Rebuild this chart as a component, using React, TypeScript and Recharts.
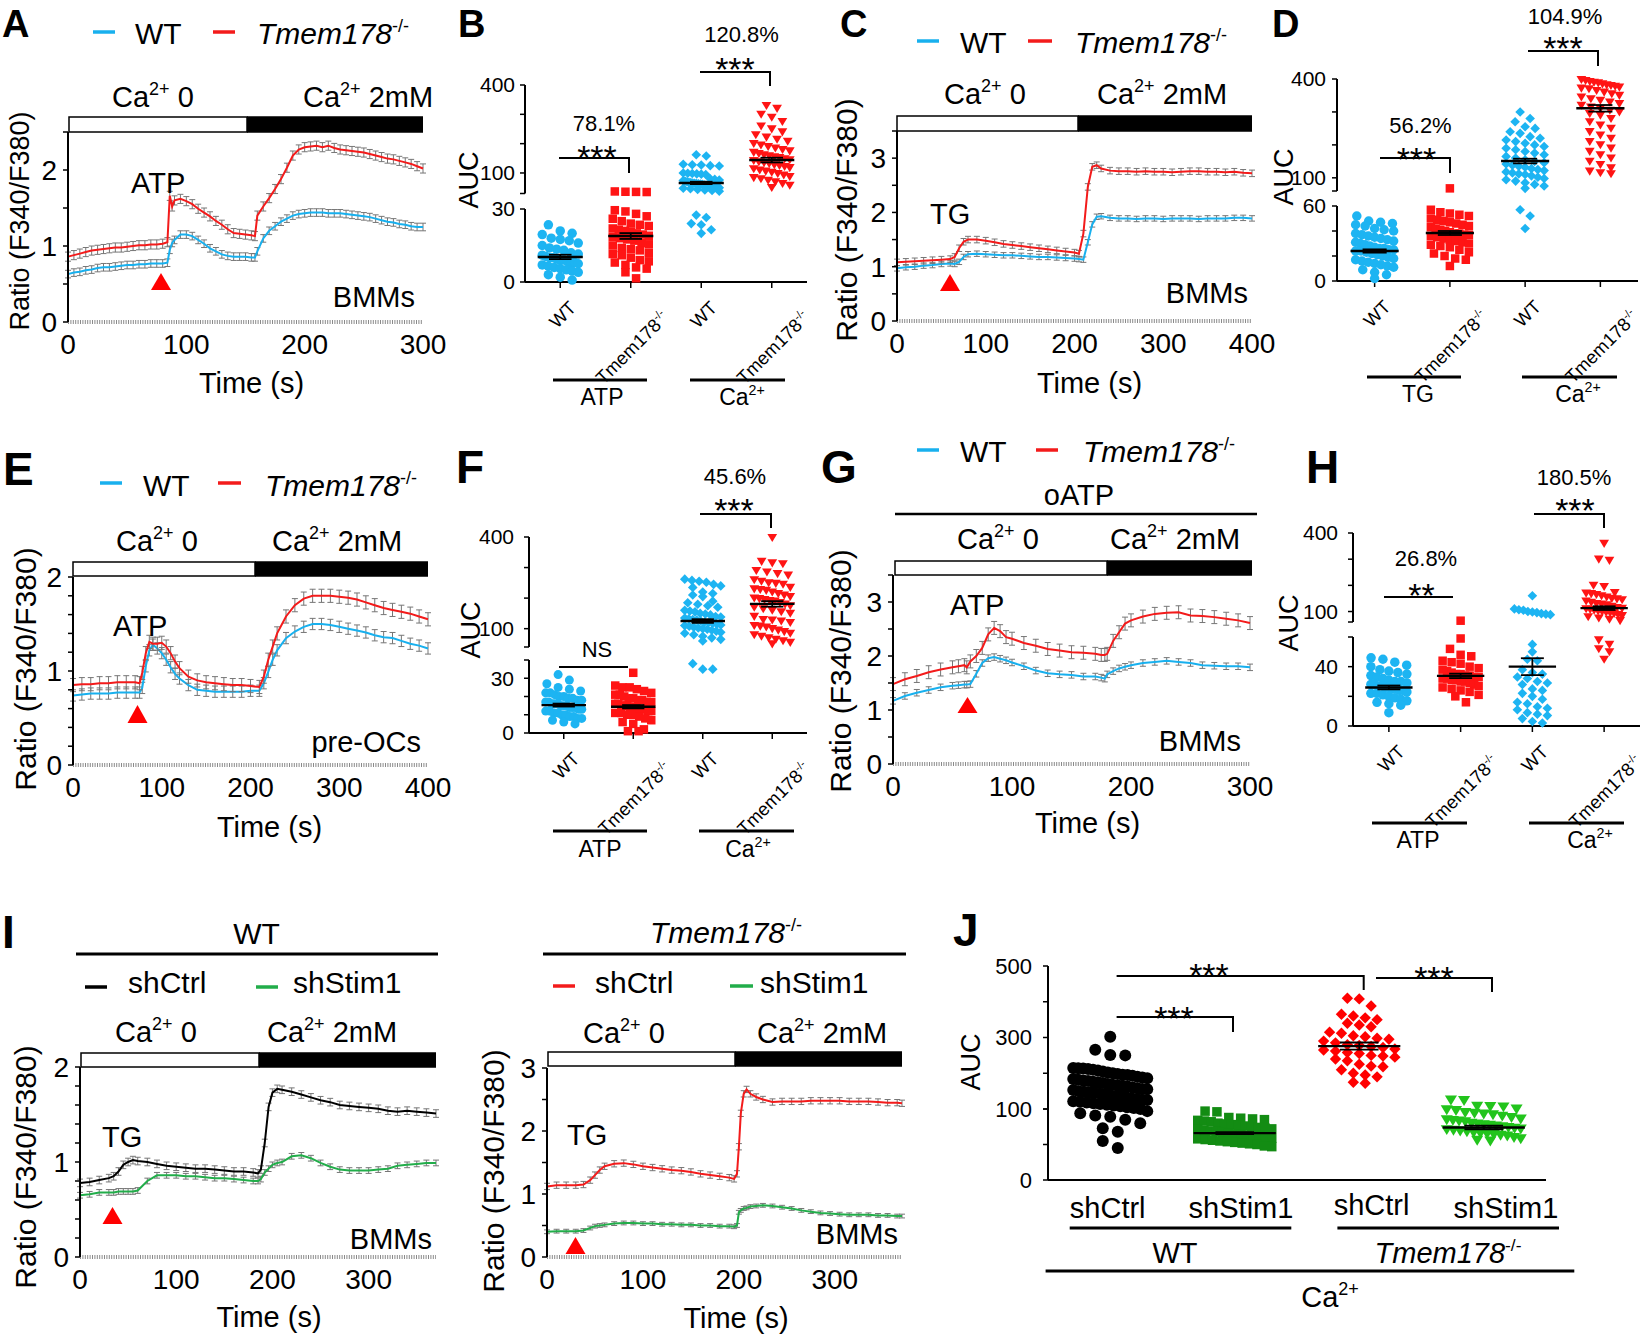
import React from 'react';
import {
  LineChart,
  Line,
  XAxis,
  YAxis,
  ErrorBar,
  ScatterChart,
  Scatter,
} from 'recharts';

const FONT = '"Liberation Sans", Arial, Helvetica, sans-serif';
const BLUE = '#18b0ee';
const RED = '#f31b1b';
const SBLUE = '#1db4f2';
const SRED = '#ff1414';
const GREEN = '#22ad4a';
const DKGREEN = '#138c13';
const LTGREEN = '#22c41c';
const ERR = '#767676';

// ---------- calcium traces (ratio F340/F380 vs time, s) ----------
const timeA = [0, 5, 10, 15, 20, 25, 30, 35, 40, 45, 50, 55, 60, 65, 70, 75, 80, 84, 86, 88, 90, 95, 100, 105, 110, 115, 120, 125, 130, 135, 140, 145, 150, 155, 158, 160, 165, 170, 175, 180, 185, 190, 195, 200, 205, 210, 215, 220, 225, 230, 235, 240, 245, 250, 255, 260, 265, 270, 275, 280, 285, 290, 295, 300];
const wtA = [0.63, 0.65, 0.66, 0.68, 0.69, 0.71, 0.72, 0.72, 0.73, 0.74, 0.75, 0.75, 0.76, 0.76, 0.77, 0.77, 0.77, 0.78, 0.95, 1.04, 1.08, 1.15, 1.15, 1.13, 1.08, 1.03, 0.97, 0.93, 0.89, 0.87, 0.86, 0.86, 0.86, 0.85, 0.85, 0.93, 1.1, 1.2, 1.26, 1.32, 1.36, 1.4, 1.42, 1.43, 1.44, 1.44, 1.44, 1.43, 1.43, 1.43, 1.42, 1.41, 1.4, 1.39, 1.38, 1.36, 1.34, 1.32, 1.31, 1.29, 1.28, 1.26, 1.25, 1.25];
const koA = [0.86, 0.88, 0.9, 0.92, 0.94, 0.95, 0.96, 0.97, 0.98, 0.98, 0.99, 1.0, 1.01, 1.01, 1.02, 1.02, 1.03, 1.05, 1.66, 1.52, 1.6, 1.62, 1.59, 1.55, 1.49, 1.44, 1.39, 1.33, 1.28, 1.22, 1.17, 1.16, 1.15, 1.14, 1.13, 1.4, 1.52, 1.63, 1.75, 1.88, 2.03, 2.19, 2.27, 2.3, 2.31, 2.32, 2.3, 2.32, 2.29, 2.27, 2.26, 2.25, 2.24, 2.23, 2.21, 2.19, 2.17, 2.15, 2.14, 2.12, 2.1, 2.08, 2.05, 2.02];

const timeC = [0, 10, 20, 30, 40, 50, 60, 65, 70, 75, 80, 90, 100, 110, 120, 130, 140, 150, 160, 170, 180, 190, 200, 205, 210, 215, 220, 225, 230, 240, 250, 260, 270, 280, 290, 300, 310, 320, 330, 340, 350, 360, 370, 380, 390, 400];
const wtC = [0.97, 0.99, 1.0, 1.02, 1.03, 1.05, 1.06, 1.05, 1.09, 1.18, 1.23, 1.24, 1.23, 1.22, 1.21, 1.21, 1.2, 1.19, 1.18, 1.18, 1.17, 1.16, 1.15, 1.14, 1.13, 1.45, 1.78, 1.92, 1.93, 1.9, 1.89, 1.89, 1.88, 1.89, 1.89, 1.88, 1.89, 1.89, 1.89, 1.88, 1.89, 1.89, 1.89, 1.9, 1.9, 1.89];
const koC = [1.08, 1.09, 1.1, 1.11, 1.12, 1.13, 1.14, 1.18, 1.34, 1.46, 1.5, 1.5, 1.48, 1.45, 1.42, 1.4, 1.38, 1.36, 1.34, 1.32, 1.3, 1.28, 1.26, 1.24, 1.61, 2.47, 2.84, 2.87, 2.81, 2.77, 2.76, 2.76, 2.75, 2.76, 2.75, 2.75, 2.74, 2.75, 2.76, 2.76, 2.75, 2.75, 2.74, 2.75, 2.73, 2.72];

const timeE = [0, 10, 20, 30, 40, 50, 60, 70, 75, 78, 82, 86, 90, 95, 100, 105, 110, 115, 120, 130, 140, 150, 160, 170, 180, 190, 200, 210, 215, 220, 225, 230, 240, 250, 260, 270, 280, 290, 300, 310, 320, 330, 340, 350, 360, 370, 380, 390, 400];
const wtE = [0.74, 0.75, 0.76, 0.76, 0.76, 0.77, 0.77, 0.77, 0.77, 0.82, 1.05, 1.22, 1.28, 1.24, 1.19, 1.12, 1.04, 0.97, 0.92, 0.85, 0.8, 0.79, 0.78, 0.78, 0.78, 0.78, 0.79, 0.79, 0.87, 0.99, 1.12, 1.22, 1.35, 1.42, 1.47, 1.5, 1.5, 1.49, 1.47, 1.45, 1.43, 1.41, 1.38, 1.36, 1.35, 1.32, 1.29, 1.27, 1.24];
const koE = [0.85, 0.86, 0.86, 0.87, 0.87, 0.88, 0.88, 0.88, 0.87, 0.98, 1.19, 1.31, 1.29, 1.29, 1.3, 1.26, 1.19, 1.1, 1.03, 0.94, 0.9, 0.88, 0.87, 0.86, 0.85, 0.85, 0.84, 0.83, 0.94, 1.12, 1.26, 1.4, 1.58, 1.7, 1.77, 1.8, 1.8, 1.8, 1.79, 1.78, 1.76, 1.73, 1.7, 1.67, 1.65, 1.63, 1.61, 1.58, 1.55];

const timeG = [0, 10, 20, 30, 40, 50, 55, 60, 62, 65, 70, 75, 80, 85, 90, 95, 100, 110, 120, 130, 140, 150, 160, 170, 175, 178, 180, 185, 190, 195, 200, 210, 220, 230, 240, 250, 260, 270, 280, 290, 300];
const wtG = [1.17, 1.26, 1.32, 1.37, 1.42, 1.45, 1.46, 1.47, 1.47, 1.48, 1.67, 1.87, 1.96, 1.98, 1.95, 1.92, 1.88, 1.81, 1.73, 1.68, 1.66, 1.65, 1.62, 1.62, 1.6, 1.58, 1.66, 1.72, 1.77, 1.8, 1.83, 1.87, 1.89, 1.91, 1.89, 1.87, 1.83, 1.82, 1.81, 1.81, 1.79];
const koG = [1.48, 1.57, 1.63, 1.7, 1.75, 1.79, 1.81, 1.83, 1.79, 1.9, 2.0, 2.15, 2.4, 2.52, 2.46, 2.35, 2.32, 2.24, 2.19, 2.13, 2.1, 2.07, 2.06, 2.04, 2.02, 2.02, 2.04, 2.28, 2.44, 2.6, 2.66, 2.73, 2.78, 2.8, 2.81, 2.75, 2.74, 2.72, 2.69, 2.66, 2.61];

const timeIL = [0, 10, 20, 30, 35, 40, 45, 50, 55, 60, 70, 80, 90, 100, 110, 120, 130, 140, 150, 160, 170, 180, 185, 188, 192, 196, 200, 205, 210, 220, 230, 240, 250, 260, 270, 280, 290, 300, 310, 320, 330, 340, 350, 360, 370];
const ctrlIL = [0.78, 0.79, 0.81, 0.83, 0.85, 0.9, 0.97, 1.0, 1.02, 1.01, 1.0, 0.98, 0.96, 0.95, 0.94, 0.93, 0.93, 0.92, 0.91, 0.9, 0.9, 0.89, 0.88, 0.92, 1.2, 1.58, 1.73, 1.77, 1.76, 1.74, 1.71, 1.68, 1.65, 1.63, 1.6, 1.59, 1.58, 1.57, 1.56, 1.54, 1.53, 1.54, 1.53, 1.52, 1.51];
const stimIL = [0.65, 0.66, 0.68, 0.68, 0.68, 0.69, 0.69, 0.69, 0.69, 0.7, 0.8, 0.86, 0.86, 0.86, 0.85, 0.85, 0.84, 0.83, 0.83, 0.82, 0.81, 0.8, 0.8, 0.82, 0.89, 0.93, 0.97, 0.99, 1.0, 1.06, 1.07, 1.04, 0.99, 0.95, 0.92, 0.91, 0.91, 0.91, 0.92, 0.93, 0.96, 0.97, 0.98, 0.99, 0.99];

const timeIR = [0, 10, 20, 30, 38, 45, 50, 55, 60, 70, 80, 90, 100, 110, 120, 130, 140, 150, 160, 170, 180, 190, 195, 198, 200, 202, 205, 208, 212, 218, 225, 235, 245, 255, 265, 275, 285, 295, 305, 315, 325, 335, 345, 355, 365, 370];
const ctrlIR = [1.12, 1.14, 1.14, 1.14, 1.15, 1.22, 1.3, 1.38, 1.44, 1.48, 1.49, 1.47, 1.44, 1.42, 1.4, 1.38, 1.37, 1.35, 1.32, 1.3, 1.28, 1.26, 1.24, 1.32, 1.75, 2.28, 2.59, 2.66, 2.59, 2.54, 2.5, 2.46, 2.47, 2.47, 2.47, 2.48, 2.48, 2.48, 2.48, 2.47, 2.47, 2.47, 2.46, 2.45, 2.45, 2.44];
const stimIR = [0.4, 0.41, 0.41, 0.41, 0.42, 0.46, 0.49, 0.5, 0.51, 0.53, 0.54, 0.54, 0.53, 0.53, 0.52, 0.52, 0.51, 0.51, 0.5, 0.5, 0.49, 0.49, 0.48, 0.5, 0.71, 0.74, 0.77, 0.78, 0.8, 0.81, 0.82, 0.81, 0.79, 0.77, 0.74, 0.72, 0.7, 0.69, 0.68, 0.67, 0.67, 0.67, 0.66, 0.66, 0.65, 0.65];

const ticksA = [0, 0.5, 1, 1.5, 2, 2.5];
const ticks35 = [0, 0.5, 1, 1.5, 2, 2.5, 3, 3.5];
const ticks3 = [0, 0.5, 1, 1.5, 2, 2.5, 3];
const ticks2 = [0, 0.2, 0.4, 0.6, 0.8, 1, 1.2, 1.4, 1.6, 1.8, 2];
const lab012 = [0, 1, 2];
const lab0123 = [0, 1, 2, 3];
const xt300 = [0, 100, 200, 300];
const xt400 = [0, 100, 200, 300, 400];

// ---------- AUC dot plots ----------
const bWtAtp = [23.5, 21, 20, 19.5, 18, 17.5, 17, 16, 15, 14, 13.5, 13, 12, 11.5, 11, 10.5, 10, 10, 9.5, 9, 9, 8.5, 8, 8, 7.5, 7, 6.5, 6, 5.5, 5, 4.5, 4, 3, 2, 0.8];
const bKoAtp = [37, 36, 35.5, 35, 29.5, 29, 28, 27, 26, 25, 24, 23.5, 23, 22, 21.5, 21, 20.5, 20, 19.5, 19, 18.5, 18, 17.5, 17, 16, 15.5, 15, 14, 13.5, 13, 12, 11.5, 11, 10, 9, 8.5, 8, 7, 6, 5.5, 4, 1.5];
const bWtCa = [162, 158, 130, 128, 127, 125, 124, 100, 99, 98, 97, 96, 95, 80, 78, 76, 74, 72, 70, 68, 67, 66, 65, 64, 63, 62, 61, 60, 59, 58, 57, 56, 55, 54, 52, 50, 48, 46, 44, 42, 40, 38, 27.5, 26.5, 24, 23.5, 21.5, 20];
const bKoCa = [330, 320, 300, 290, 275, 260, 250, 240, 230, 222, 215, 208, 200, 195, 190, 185, 180, 175, 170, 166, 162, 158, 155, 152, 148, 145, 142, 138, 135, 132, 128, 125, 122, 118, 114, 110, 106, 102, 98, 93, 88, 84, 80, 75, 70, 64, 58, 50];
const meanB = [10.3, 18.9, 66, 144];
const semB = [0.9, 1.2, 4, 8];

const dWtTg = [52, 48, 47, 46, 45, 44, 42, 41, 40, 38, 37, 36, 35, 34, 33, 32, 31, 30, 29, 28, 27, 26, 26, 25, 25, 24, 24, 23, 22, 21, 20, 19, 18, 17, 16, 15, 14, 13, 12, 11, 9, 7, 5, 2];
const dKoTg = [68, 57, 55, 54, 53, 52, 50, 49, 48, 47, 46, 45, 44, 43, 42, 41, 40, 39, 38, 38, 37, 37, 36, 35, 34, 33, 32, 31, 30, 29, 28, 27, 25, 23, 22, 20, 18, 17, 12];
const dWtCa = [300, 280, 270, 255, 250, 240, 235, 225, 220, 215, 210, 205, 200, 195, 190, 185, 180, 175, 170, 165, 160, 155, 150, 146, 142, 138, 135, 132, 128, 125, 122, 118, 115, 112, 110, 106, 102, 98, 94, 90, 85, 80, 75, 68, 57, 52, 42];
const dKoCa = [398, 395, 392, 390, 388, 385, 382, 380, 378, 375, 372, 370, 365, 360, 355, 350, 345, 340, 335, 330, 325, 320, 315, 310, 305, 300, 295, 290, 280, 270, 260, 250, 240, 230, 220, 210, 200, 190, 180, 170, 160, 150, 140, 130, 120, 115, 112];
const meanD = [24, 38.4, 151, 311];
const semD = [1.3, 1.6, 7, 10];

const fWtAtp = [32, 29, 27, 25, 24, 23, 22, 22, 21, 20, 20, 19, 19, 18, 18, 17, 17, 16, 16, 16, 15, 15, 15, 14, 14, 14, 13, 13, 12, 12, 11, 11, 10, 10, 9, 9, 8, 8, 7, 6, 5];
const fKoAtp = [33, 26, 25, 25, 24, 23, 22, 21, 21, 20, 19, 19, 18, 18, 17, 17, 16, 16, 15, 15, 15, 14, 14, 14, 13, 13, 13, 12, 12, 11, 11, 10, 10, 9, 8, 7, 6, 5, 2, 1, 1];
const fWtCa = [262, 258, 255, 252, 245, 240, 235, 220, 215, 210, 205, 190, 185, 180, 175, 170, 160, 158, 155, 150, 148, 145, 140, 138, 135, 132, 130, 128, 125, 122, 120, 118, 115, 112, 110, 108, 105, 102, 100, 98, 95, 92, 88, 85, 80, 75, 70, 65, 60, 38, 35, 35];
const fKoCa = [398, 320, 315, 312, 290, 285, 280, 275, 260, 255, 250, 248, 245, 235, 230, 228, 225, 220, 215, 210, 205, 200, 198, 195, 192, 190, 185, 180, 175, 170, 165, 160, 155, 150, 140, 130, 128, 125, 120, 110, 108, 105, 100, 95, 90, 85, 80, 75, 70, 65, 60, 55, 50];
const meanF = [15.3, 14.4, 125, 181];
const semF = [0.8, 0.9, 6, 9];

const hWtAtp = [46, 45, 43, 41, 40, 38, 37, 36, 35, 34, 33, 32, 31, 30, 30, 29, 28, 28, 27, 27, 26, 26, 25, 25, 24, 24, 23, 22, 22, 21, 20, 19, 18, 17, 16, 15, 14, 9];
const hKoAtp = [65, 59, 52, 48, 47, 44, 43, 42, 40, 39, 38, 37, 36, 35, 35, 34, 34, 33, 33, 32, 32, 31, 31, 30, 30, 29, 28, 27, 26, 25, 24, 23, 21, 20, 16];
const hWtCa = [160, 110, 107, 105, 100, 98, 96, 92, 90, 88, 55, 50, 45, 44, 38, 36, 35, 33, 32, 30, 29, 28, 25, 24, 22, 20, 18, 16, 15, 13, 12, 11, 9, 8, 7, 5, 3, 2];
const hKoCa = [360, 300, 295, 200, 195, 172, 170, 168, 165, 160, 155, 150, 148, 145, 140, 135, 130, 128, 125, 120, 115, 112, 110, 108, 105, 102, 100, 97, 95, 92, 88, 84, 80, 75, 70, 65, 58, 55, 52, 50, 45];
const meanH = [26, 33.8, 40, 113];
const semH = [1.3, 1.5, 5.7, 7];

const jWtCtrl = [302, 266, 251, 250, 215, 214, 213, 212, 210, 208, 205, 202, 200, 198, 196, 195, 193, 190, 188, 186, 184, 182, 180, 178, 176, 175, 173, 170, 168, 166, 165, 163, 160, 158, 156, 155, 153, 150, 148, 146, 145, 143, 140, 138, 136, 135, 133, 130, 128, 126, 125, 122, 120, 118, 116, 114, 112, 110, 108, 105, 103, 100, 97, 94, 91, 89, 85, 80, 73, 68, 55, 45];
const jWtStim = [97, 96, 88, 87, 86, 85, 84, 83, 82, 80, 79, 78, 77, 76, 75, 74, 73, 72, 71, 70, 69, 68, 67, 66, 65, 64, 63, 62, 61, 60, 59, 58, 57, 56, 55, 54, 53, 52, 51, 50, 48, 47];
const jKoCtrl = [410, 408, 388, 365, 360, 355, 350, 340, 335, 330, 315, 312, 305, 302, 298, 295, 290, 285, 280, 278, 275, 272, 268, 265, 262, 258, 255, 250, 248, 245, 240, 235, 225, 220, 218, 210, 200, 195, 190, 175, 172];
const jKoStim = [125, 124, 108, 107, 106, 100, 99, 98, 95, 94, 93, 92, 90, 88, 86, 85, 84, 83, 82, 80, 79, 78, 77, 76, 75, 74, 73, 72, 71, 70, 69, 68, 67, 66, 65, 64, 63, 62, 60, 58, 56, 55];
const meanJ = [155, 66, 276, 74];
const semJ = [6, 1.5, 10, 2.5];

// ---------- trace panel ----------
function Trace({ L, T, W, H, xMax, xTicks, yMax, yTicks, yLabels, time, series }: any) {
  const AX = 50, MT = 18, MR = 34, XH = 50;
  const rows = time.map((t: number, i: number) => {
    const r: any = { t };
    series.forEach((s: any, k: number) => {
      r['v' + k] = s.v[i];
      r['e' + k] = s.e;
    });
    return r;
  });
  return (
    <div style={{ position: 'absolute', left: L - AX, top: T - MT }}>
      <LineChart width={W + AX + MR} height={H + MT + XH} data={rows} margin={{ top: MT, right: MR, left: 0, bottom: 0 }}>
        <XAxis dataKey="t" type="number" domain={[0, xMax]} ticks={xTicks} interval={0} height={XH}
          tickSize={0} tickMargin={12} tickLine={false}
          axisLine={{ stroke: '#8a8a8a', strokeWidth: 4, strokeDasharray: '1 1.4' }}
          tick={{ fontSize: 28, fill: '#000' }} />
        <YAxis type="number" domain={[0, yMax]} ticks={yTicks} interval={0} width={AX}
          tickSize={5} tickMargin={6}
          tickFormatter={(v: number) => (yLabels.includes(v) ? String(v) : '')}
          axisLine={{ stroke: '#000', strokeWidth: 2 }} tickLine={{ stroke: '#000', strokeWidth: 1.5 }}
          tick={{ fontSize: 28, fill: '#000' }} />
        {series.map((s: any, k: number) => (
          <Line key={k} type="linear" dataKey={'v' + k} stroke={s.c} strokeWidth={2} dot={false} isAnimationActive={false}>
            <ErrorBar dataKey={'e' + k} width={3} stroke={ERR} strokeWidth={1} />
          </Line>
        ))}
      </LineChart>
    </div>
  );
}

// ---------- dot plot helpers ----------
function segOf(segs: any[], v: number) {
  for (let i = 0; i < segs.length; i++) if (v >= segs[i].lo) return i;
  return segs.length - 1;
}
function valPx(segs: any[], v: number) {
  const s = segs[segOf(segs, v)];
  return s.bottom - ((v - s.lo) / (s.hi - s.lo)) * (s.bottom - s.top);
}
// simple beeswarm: points at similar height are spread side by side
function swarm(values: number[], segs: any[], cat: number, catPx: number, size: number, maxW: number) {
  const pts = values.map((v) => ({ v, py: valPx(segs, v) })).sort((a, b) => a.py - b.py);
  const rows: any[][] = [];
  pts.forEach((p) => {
    const r = rows[rows.length - 1];
    if (r && p.py - r[0].py < size * 0.9) r.push(p);
    else rows.push([p]);
  });
  const out: any[] = [];
  rows.forEach((r) => {
    const n = r.length;
    const step = n > 1 ? Math.min(size * 1.25, maxW / (n - 1)) : 0;
    r.forEach((p, i) => out.push({ x: cat + ((i - (n - 1) / 2) * step) / catPx, y: p.v }));
  });
  return out;
}

function Marker({ cx, cy, kind, size, color }: any) {
  const r = size / 2;
  if (kind === 'circle') return <circle cx={cx} cy={cy} r={r} fill={color} />;
  if (kind === 'square') return <rect x={cx - r} y={cy - r} width={size} height={size} fill={color} />;
  if (kind === 'diamond') {
    const d = r * 1.2;
    return <polygon points={`${cx},${cy - d} ${cx + d},${cy} ${cx},${cy + d} ${cx - d},${cy}`} fill={color} />;
  }
  const w = r * 1.15;
  return <polygon points={`${cx - w},${cy - r * 0.85} ${cx + w},${cy - r * 0.85} ${cx},${cy + r * 1.05}`} fill={color} />;
}

// mean line with SEM whiskers, drawn at the mean's own position
function MeanBar({ cx, cy, hw, cw, e }: any) {
  return (
    <g stroke="#000" fill="none">
      <line x1={cx - hw} x2={cx + hw} y1={cy} y2={cy} strokeWidth={2.4} />
      <line x1={cx} x2={cx} y1={cy - e} y2={cy + e} strokeWidth={1.8} />
      <line x1={cx - cw} x2={cx + cw} y1={cy - e} y2={cy - e} strokeWidth={1.8} />
      <line x1={cx - cw} x2={cx + cw} y1={cy + e} y2={cy + e} strokeWidth={1.8} />
    </g>
  );
}

function CatTick({ x, y, payload }: any) {
  const ko = payload.value % 2 === 1;
  const fs = 18.5;
  return (
    <g transform={`translate(${x + (ko ? 39 : 17)},${y + (ko ? 29 : 19)}) rotate(-45)`}>
      <text textAnchor="end" fontSize={fs} fill="#000">
        {ko ? [
          <tspan key="a">Tmem178</tspan>,
          <tspan key="b" dy={-fs * 0.4} fontSize={fs * 0.6}>-/-</tspan>,
        ] : 'WT'}
      </text>
    </g>
  );
}

function Dots({ L, W, segs, groups, means, sems, maxW, half, cap, fs = 21, tm = 6, catLabels = true }: any) {
  const catPx = W / 4;
  const pts = groups.map((g: any, i: number) => swarm(g.v, segs, i, catPx, g.s, maxW));
  const AX = 60, MR = 8, PAD = 12;
  return (
    <>
      {segs.map((s: any, si: number) => {
        const last = si === segs.length - 1;
        const XH = last ? 110 : 0;
        const h = s.bottom - s.top;
        const ppu = h / (s.hi - s.lo);
        const meanPts = means
          .map((m: number, i: number) => ({ x: i, y: m, i }))
          .filter((d: any) => segOf(segs, d.y) === si);
        return (
          <div key={si} style={{ position: 'absolute', left: L - AX, top: s.top - PAD }}>
            <ScatterChart width={W + AX + MR} height={h + PAD + (last ? XH : PAD)}
              margin={{ top: PAD, right: MR, left: 0, bottom: last ? 0 : PAD }}>
              <XAxis type="number" dataKey="x" domain={[-0.5, 3.5]} ticks={[0, 1, 2, 3]} interval={0}
                hide={!last} height={XH} tickSize={6} tickMargin={2}
                axisLine={{ stroke: '#000', strokeWidth: 2 }} tickLine={{ stroke: '#000', strokeWidth: 1.5 }}
                tick={catLabels ? (p: any) => <CatTick {...p} /> : false} />
              <YAxis type="number" dataKey="y" domain={[s.lo, s.hi]} ticks={s.ticks} interval={0} width={AX}
                tickSize={5} tickMargin={tm}
                tickFormatter={(v: number) => (s.labels.includes(v) ? String(v) : '')}
                axisLine={{ stroke: '#000', strokeWidth: 2 }} tickLine={{ stroke: '#000', strokeWidth: 1.5 }}
                tick={{ fontSize: fs, fill: '#000' }} />
              {groups.map((g: any, gi: number) => (
                <Scatter key={gi} data={pts[gi].filter((p: any) => segOf(segs, p.y) === si)} isAnimationActive={false}
                  shape={(p: any) => <Marker cx={p.cx} cy={p.cy} kind={g.k} size={g.s} color={g.c} />} />
              ))}
              <Scatter data={meanPts} isAnimationActive={false}
                shape={(p: any) => (
                  <MeanBar cx={p.cx} cy={p.cy} hw={half * catPx} cw={cap * catPx} e={sems[p.payload.i] * ppu} />
                )} />
            </ScatterChart>
          </div>
        );
      })}
    </>
  );
}

// ---------- annotation helpers ----------
const Tx = ({ x, y, s = 29, a = 'start', b, it, children }: any) => (
  <text x={x} y={y} fontSize={s} textAnchor={a} fontWeight={b ? 700 : 400} fontStyle={it ? 'italic' : 'normal'} fill="#000">
    {children}
  </text>
);
const Ca = ({ x, y, tail = '', s = 29, a = 'start' }: any) => (
  <text x={x} y={y} fontSize={s} textAnchor={a} fill="#000">
    Ca<tspan dy={-s * 0.42} fontSize={s * 0.62}>2+</tspan>
    {tail ? <tspan dy={s * 0.42}>{'\u00a0' + tail}</tspan> : null}
  </text>
);
const Ko = ({ x, y, s = 30, a = 'start' }: any) => (
  <text x={x} y={y} fontSize={s} textAnchor={a} fill="#000">
    <tspan fontStyle="italic">Tmem178</tspan>
    <tspan dy={-s * 0.4} fontSize={s * 0.6}>-/-</tspan>
  </text>
);
const YLab = ({ x, y, s = 30, children }: any) => (
  <text transform={`translate(${x},${y}) rotate(-90)`} fontSize={s} textAnchor="middle" fill="#000">{children}</text>
);
const Dash = ({ x1, x2, y, c }: any) => <line x1={x1} x2={x2} y1={y} y2={y} stroke={c} strokeWidth={3.5} />;
const CaBar = ({ x1, xm, x2, y1, y2 }: any) => (
  <g>
    <rect x={x1} y={y1} width={xm - x1} height={y2 - y1} fill="#fff" stroke="#000" strokeWidth={1.5} />
    <rect x={xm} y={y1 - 0.75} width={x2 - xm} height={y2 - y1 + 1.5} fill="#000" />
  </g>
);
const Tri = ({ cx, y1, y2 }: any) => <polygon points={`${cx - 10},${y2} ${cx + 10},${y2} ${cx},${y1}`} fill="#ff0000" />;
const Stars = ({ x, cy, n = 3, s = 34 }: any) => (
  <Tx x={x} y={cy + 0.58 * s} s={s} a="middle">{'*'.repeat(n)}</Tx>
);
const Br = ({ d, w = 2 }: any) => <path d={d} stroke="#000" strokeWidth={w} fill="none" />;
const HL = ({ x1, x2, y, w = 3 }: any) => <line x1={x1} x2={x2} y1={y} y2={y} stroke="#000" strokeWidth={w} />;

export default function App() {
  return (
    <div style={{ position: 'absolute', left: 0, top: 0, width: 1648, height: 1341, background: '#fff', fontFamily: FONT, overflow: 'hidden' }}>
      {/* traces */}
      <Trace L={68} T={132} W={355} H={190} xMax={300} xTicks={xt300} yMax={2.5} yTicks={ticksA} yLabels={lab012}
        time={timeA} series={[{ v: wtA, c: BLUE, e: 0.05 }, { v: koA, c: RED, e: 0.06 }]} />
      <Trace L={897} T={131} W={355} H={190} xMax={400} xTicks={xt400} yMax={3.5} yTicks={ticks35} yLabels={lab0123}
        time={timeC} series={[{ v: wtC, c: BLUE, e: 0.05 }, { v: koC, c: RED, e: 0.06 }]} />
      <Trace L={73} T={577} W={355} H={188} xMax={400} xTicks={xt400} yMax={2} yTicks={ticks2} yLabels={lab012}
        time={timeE} series={[{ v: wtE, c: BLUE, e: 0.06 }, { v: koE, c: RED, e: 0.07 }]} />
      <Trace L={893} T={575} W={357} H={189} xMax={300} xTicks={xt300} yMax={3.5} yTicks={ticks35} yLabels={lab0123}
        time={timeG} series={[{ v: wtG, c: BLUE, e: 0.06 }, { v: koG, c: RED, e: 0.12 }]} />
      <Trace L={80} T={1067} W={356} H={190} xMax={370} xTicks={xt300} yMax={2} yTicks={ticks2} yLabels={lab012}
        time={timeIL} series={[{ v: stimIL, c: GREEN, e: 0.03 }, { v: ctrlIL, c: '#000', e: 0.04 }]} />
      <Trace L={547} T={1068} W={355} H={189} xMax={370} xTicks={xt300} yMax={3} yTicks={ticks3} yLabels={lab0123}
        time={timeIR} series={[{ v: stimIR, c: GREEN, e: 0.03 }, { v: ctrlIR, c: RED, e: 0.05 }]} />

      {/* dot plots */}
      <Dots L={525} W={282} maxW={36} half={0.32} cap={0.16} tm={5}
        segs={[
          { lo: 30, hi: 400, top: 85, bottom: 193.5, ticks: [30, 100, 200, 300, 400], labels: [100, 400] },
          { lo: 0, hi: 30, top: 209, bottom: 282, ticks: [0, 30], labels: [0, 30] },
        ]}
        groups={[
          { v: bWtAtp, c: SBLUE, k: 'circle', s: 9.5 },
          { v: bKoAtp, c: SRED, k: 'square', s: 8.5 },
          { v: bWtCa, c: SBLUE, k: 'diamond', s: 8 },
          { v: bKoCa, c: SRED, k: 'tri', s: 8.5 },
        ]}
        means={meanB} sems={semB} />
      <Dots L={1337} W={301} maxW={38} half={0.32} cap={0.16} tm={6}
        segs={[
          { lo: 60, hi: 400, top: 79, bottom: 191, ticks: [60, 100, 200, 300, 400], labels: [100, 400] },
          { lo: 0, hi: 60, top: 206, bottom: 281, ticks: [0, 20, 40, 60], labels: [0, 60] },
        ]}
        groups={[
          { v: dWtTg, c: SBLUE, k: 'circle', s: 9.5 },
          { v: dKoTg, c: SRED, k: 'square', s: 8.5 },
          { v: dWtCa, c: SBLUE, k: 'diamond', s: 8 },
          { v: dKoCa, c: SRED, k: 'tri', s: 8.5 },
        ]}
        means={meanD} sems={semD} />
      <Dots L={529} W={278} maxW={36} half={0.32} cap={0.16} tm={10}
        segs={[
          { lo: 40, hi: 400, top: 537, bottom: 647, ticks: [40, 100, 200, 300, 400], labels: [100, 400] },
          { lo: 0, hi: 40, top: 660, bottom: 733, ticks: [0, 10, 20, 30, 40], labels: [0, 30] },
        ]}
        groups={[
          { v: fWtAtp, c: SBLUE, k: 'circle', s: 9 },
          { v: fKoAtp, c: SRED, k: 'square', s: 8.5 },
          { v: fWtCa, c: SBLUE, k: 'diamond', s: 8 },
          { v: fKoCa, c: SRED, k: 'tri', s: 8.5 },
        ]}
        means={meanF} sems={semF} />
      <Dots L={1353} W={287} maxW={36} half={0.33} cap={0.16} tm={10}
        segs={[
          { lo: 60, hi: 400, top: 533, bottom: 622, ticks: [60, 100, 200, 300, 400], labels: [100, 400] },
          { lo: 0, hi: 60, top: 637, bottom: 726, ticks: [0, 20, 40, 60], labels: [0, 40] },
        ]}
        groups={[
          { v: hWtAtp, c: SBLUE, k: 'circle', s: 9.5 },
          { v: hKoAtp, c: SRED, k: 'square', s: 8.5 },
          { v: hWtCa, c: SBLUE, k: 'diamond', s: 8 },
          { v: hKoCa, c: SRED, k: 'tri', s: 8.5 },
        ]}
        means={meanH} sems={semH} />
      <Dots L={1048} W={498} maxW={74} half={0.33} cap={0.155} fs={22} tm={11} catLabels={false}
        segs={[
          { lo: 100, hi: 500, top: 966, bottom: 1109, ticks: [100, 200, 300, 400, 500], labels: [100, 300, 500] },
          { lo: 0, hi: 100, top: 1109, bottom: 1180, ticks: [0, 50, 100], labels: [0] },
        ]}
        groups={[
          { v: jWtCtrl, c: '#000', k: 'circle', s: 12 },
          { v: jWtStim, c: DKGREEN, k: 'square', s: 9.5 },
          { v: jKoCtrl, c: '#ff0000', k: 'diamond', s: 9.5 },
          { v: jKoStim, c: LTGREEN, k: 'tri', s: 10.5 },
        ]}
        means={meanJ} sems={semJ} />

      {/* annotations */}
      <svg width={1648} height={1341} style={{ position: 'absolute', left: 0, top: 0, pointerEvents: 'none' }}>
        {/* panel letters */}
        <Tx x={2} y={37} s={38} b>A</Tx>
        <Tx x={458} y={37} s={38} b>B</Tx>
        <Tx x={840} y={37} s={38} b>C</Tx>
        <Tx x={1272} y={37} s={38} b>D</Tx>
        <Tx x={3} y={485} s={46} b>E</Tx>
        <Tx x={456} y={483} s={46} b>F</Tx>
        <Tx x={821} y={483} s={46} b>G</Tx>
        <Tx x={1306} y={483} s={46} b>H</Tx>
        <Tx x={2} y={948} s={46} b>I</Tx>
        <Tx x={953} y={946} s={46} b>J</Tx>

        {/* A */}
        <Dash x1={93} x2={115} y={32} c={BLUE} />
        <Tx x={135} y={44} s={30}>WT</Tx>
        <Dash x1={213} x2={235} y={32} c={RED} />
        <Ko x={257} y={44} />
        <CaBar x1={69} xm={247} x2={423} y1={117} y2={132} />
        <Ca x={112} y={107} tail="0" />
        <Ca x={303} y={107} tail="2mM" />
        <Tx x={131} y={193}>ATP</Tx>
        <Tri cx={161} y1={273} y2={290} />
        <Tx x={415} y={307} a="end">BMMs</Tx>
        <Tx x={251.5} y={393} a="middle">Time (s)</Tx>
        <YLab x={29} y={221} s={27}>Ratio (F340/F380)</YLab>

        {/* C */}
        <Dash x1={917} x2={939} y={41} c={BLUE} />
        <Tx x={960} y={53} s={30}>WT</Tx>
        <Dash x1={1028} x2={1052} y={41} c={RED} />
        <Ko x={1075} y={53} />
        <CaBar x1={897} xm={1078} x2={1252} y1={116} y2={131} />
        <Ca x={944} y={104} tail="0" />
        <Ca x={1097} y={104} tail="2mM" />
        <Tx x={930} y={224}>TG</Tx>
        <Tri cx={950} y1={274} y2={291} />
        <Tx x={1248} y={303} a="end">BMMs</Tx>
        <Tx x={1089.5} y={393} a="middle">Time (s)</Tx>
        <YLab x={857} y={220}>Ratio (F340/F380)</YLab>

        {/* E */}
        <Dash x1={100} x2={122} y={483} c={BLUE} />
        <Tx x={143} y={496} s={30}>WT</Tx>
        <Dash x1={218} x2={241} y={483} c={RED} />
        <Ko x={265} y={496} />
        <CaBar x1={73} xm={255} x2={428} y1={562} y2={576} />
        <Ca x={116} y={551} tail="0" />
        <Ca x={272} y={551} tail="2mM" />
        <Tx x={113} y={636}>ATP</Tx>
        <Tri cx={137.5} y1={705} y2={723} />
        <Tx x={421} y={752} a="end">pre-OCs</Tx>
        <Tx x={269.5} y={837} a="middle">Time (s)</Tx>
        <YLab x={36} y={669}>Ratio (F340/F380)</YLab>

        {/* G */}
        <Dash x1={917} x2={939} y={450} c={BLUE} />
        <Tx x={960} y={462} s={30}>WT</Tx>
        <Dash x1={1036} x2={1058} y={450} c={RED} />
        <Ko x={1083} y={462} />
        <Tx x={1079} y={505} a="middle">oATP</Tx>
        <HL x1={895} x2={1257} y={514} w={2.5} />
        <Ca x={957} y={549} tail="0" />
        <Ca x={1110} y={549} tail="2mM" />
        <CaBar x1={895} xm={1107} x2={1252} y1={561} y2={575} />
        <Tx x={950} y={615}>ATP</Tx>
        <Tri cx={967.5} y1={697} y2={713} />
        <Tx x={1241} y={751} a="end">BMMs</Tx>
        <Tx x={1087.5} y={833} a="middle">Time (s)</Tx>
        <YLab x={851} y={671}>Ratio (F340/F380)</YLab>

        {/* I left */}
        <Tx x={256.5} y={944} s={30} a="middle">WT</Tx>
        <HL x1={76} x2={438} y={954} />
        <Dash x1={85} x2={107} y={987} c="#000" />
        <Tx x={128} y={993} s={30}>shCtrl</Tx>
        <Dash x1={256} x2={278} y={987} c={GREEN} />
        <Tx x={293} y={993} s={30}>shStim1</Tx>
        <Ca x={115} y={1042} tail="0" />
        <Ca x={267} y={1042} tail="2mM" />
        <CaBar x1={81} xm={259} x2={436} y1={1053} y2={1067} />
        <Tx x={102} y={1147}>TG</Tx>
        <Tri cx={112.5} y1={1207} y2={1224} />
        <Tx x={432} y={1249} a="end">BMMs</Tx>
        <Tx x={269} y={1327} a="middle">Time (s)</Tx>
        <YLab x={36} y={1167}>Ratio (F340/F380)</YLab>

        {/* I right */}
        <Ko x={726} y={943} a="middle" />
        <HL x1={543} x2={906} y={954} />
        <Dash x1={553} x2={575} y={986} c={RED} />
        <Tx x={595} y={993} s={30}>shCtrl</Tx>
        <Dash x1={730} x2={753} y={986} c={GREEN} />
        <Tx x={760} y={993} s={30}>shStim1</Tx>
        <Ca x={583} y={1043} tail="0" />
        <Ca x={757} y={1043} tail="2mM" />
        <CaBar x1={548} xm={735} x2={902} y1={1052} y2={1066} />
        <Tx x={567} y={1145}>TG</Tx>
        <Tri cx={575.5} y1={1237} y2={1254} />
        <Tx x={898} y={1244} a="end">BMMs</Tx>
        <Tx x={736} y={1328} a="middle">Time (s)</Tx>
        <YLab x={504} y={1171}>Ratio (F340/F380)</YLab>

        {/* B */}
        <YLab x={478} y={180} s={27}>AUC</YLab>
        <Br d="M559,158H629V173" />
        <Stars x={597} cy={149} />
        <Tx x={604} y={131} s={22} a="middle">78.1%</Tx>
        <Br d="M700,72H770V86" />
        <Stars x={735} cy={61} />
        <Tx x={741.5} y={42} s={22} a="middle">120.8%</Tx>
        <HL x1={553} x2={647} y={380} />
        <Tx x={602} y={405} s={23} a="middle">ATP</Tx>
        <HL x1={690} x2={785} y={380} />
        <Ca x={742} y={405} s={23} a="middle" />

        {/* D */}
        <YLab x={1293} y={177} s={27}>AUC</YLab>
        <Br d="M1380,158H1450V173" />
        <Stars x={1416.5} cy={151} />
        <Tx x={1420.5} y={133} s={22} a="middle">56.2%</Tx>
        <Br d="M1528,51H1598V66" />
        <Stars x={1563} cy={40} />
        <Tx x={1565} y={24} s={22} a="middle">104.9%</Tx>
        <HL x1={1367} x2={1461} y={377} />
        <Tx x={1418} y={402} s={23} a="middle">TG</Tx>
        <HL x1={1522} x2={1617} y={377} />
        <Ca x={1578} y={402} s={23} a="middle" />

        {/* F */}
        <YLab x={480} y={630} s={27}>AUC</YLab>
        <HL x1={559} x2={628} y={667} w={2} />
        <Tx x={597} y={657} s={22} a="middle">NS</Tx>
        <Br d="M700,514H771V528" />
        <Stars x={734} cy={502.5} />
        <Tx x={735} y={484} s={22} a="middle">45.6%</Tx>
        <HL x1={553} x2={647} y={831} />
        <Tx x={600} y={857} s={23} a="middle">ATP</Tx>
        <HL x1={699} x2={794} y={831} />
        <Ca x={748} y={857} s={23} a="middle" />

        {/* H */}
        <YLab x={1298} y={623} s={27}>AUC</YLab>
        <HL x1={1384} x2={1453} y={597} w={2} />
        <Stars x={1421.5} cy={587.5} n={2} />
        <Tx x={1426} y={566} s={22} a="middle">26.8%</Tx>
        <Br d="M1534,514H1604V528" />
        <Stars x={1575} cy={502.5} />
        <Tx x={1574} y={485} s={22} a="middle">180.5%</Tx>
        <HL x1={1372} x2={1467} y={823} />
        <Tx x={1418} y={848} s={23} a="middle">ATP</Tx>
        <HL x1={1529} x2={1624} y={823} />
        <Ca x={1590} y={848} s={23} a="middle" />

        {/* J */}
        <YLab x={980} y={1062} s={27}>AUC</YLab>
        <Br d="M1116.6,976H1363.7V990" />
        <Stars x={1209} cy={967.5} />
        <Br d="M1376,978H1492V992" />
        <Stars x={1434} cy={970} />
        <Br d="M1116.6,1017H1233V1032" />
        <Stars x={1174} cy={1010} />
        <Tx x={1107.7} y={1218} a="middle">shCtrl</Tx>
        <Tx x={1241} y={1218} a="middle">shStim1</Tx>
        <Tx x={1371.5} y={1215} a="middle">shCtrl</Tx>
        <Tx x={1506} y={1218} a="middle">shStim1</Tx>
        <HL x1={1069.7} x2={1291.3} y={1228} />
        <HL x1={1337.4} x2={1559} y={1228} />
        <Tx x={1175} y={1263} a="middle">WT</Tx>
        <Ko x={1448} y={1263} s={29} a="middle" />
        <HL x1={1045.6} x2={1574.3} y={1271} />
        <Ca x={1330} y={1307} a="middle" />
      </svg>
    </div>
  );
}
